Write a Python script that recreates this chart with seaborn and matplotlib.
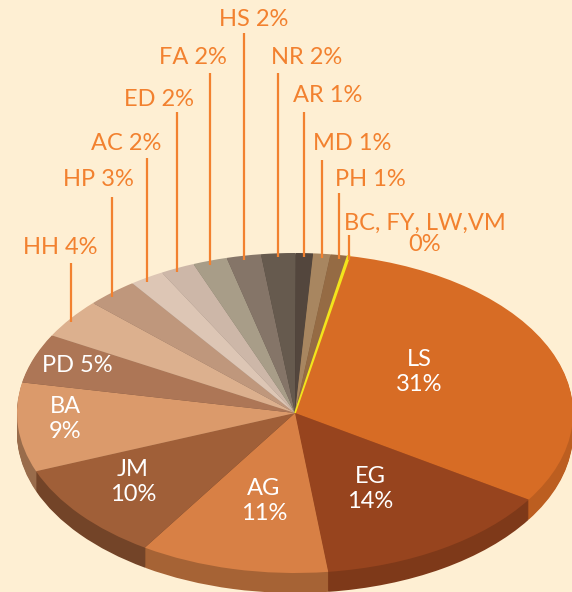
import numpy as np
import matplotlib
matplotlib.use("Agg")
import matplotlib.pyplot as plt
import seaborn as sns

# data (clockwise from the top)
cats = ["LS", "EG", "AG", "JM", "BA", "PD", "HH", "HP", "AC", "ED",
        "FA", "HS", "NR", "AR", "MD", "PH", "BC, FY, LW,VM"]
shares = [31, 14, 11, 10, 9, 5, 4, 3, 2, 2, 2, 2, 2, 1, 1, 1, 0.1]
pct_labels = ["31%", "14%", "11%", "10%", "9%", "5%", "4%", "3%", "2%", "2%",
              "2%", "2%", "2%", "1%", "1%", "1%", "0%"]
slice_colors = ["#D76C25", "#97441E", "#D88045", "#A05F38", "#DB9A6B", "#AD7656",
                "#DCB08E", "#BF977C", "#DDC6B5", "#CDB7A8", "#A89D88", "#857568",
                "#665A4E", "#53463D", "#A88660", "#956B44", "#F2E41C"]

BG = "#FEEFD3"
ORANGE = "#F2812F"

sns.set_style("white")
plt.rcParams["font.family"] = ["Lato", "DejaVu Sans"]

W, H = 572, 592
CX, CY, RX, RY, DEPTH = 295, 413, 278, 160, 20
START = 78.7

fig = plt.figure(figsize=(W / 100, H / 100), dpi=100, facecolor=BG)
ax = fig.add_axes([0, 0, 1, 1])
ax.set_facecolor(BG)

palette = sns.color_palette(slice_colors)

# wall shading: lit from the right, darker to the left
total = sum(shares)
wall = []
acc = 0
for v, col in zip(shares, palette):
    mid = np.deg2rad(START - (acc + v / 2) / total * 360)
    acc += v
    f = 0.79 + 0.09 * np.cos(mid)
    wall.append(tuple(c * f for c in col))

# side wall: stacked, shifted copies of the pie
for k in range(DEPTH, 0, -1):
    ax.pie(shares, colors=wall, startangle=START, counterclock=False,
           center=(0, -k / RY), radius=1,
           wedgeprops=dict(linewidth=0))
# top face
wedges, _ = ax.pie(shares, colors=palette, startangle=START, counterclock=False,
                   radius=1, wedgeprops=dict(linewidth=0))
wedges[-1].set_edgecolor(slice_colors[-1])
wedges[-1].set_linewidth(1.2)

ax.set_aspect("auto")
ax.set_xlim(-CX / RX, (W - CX) / RX)
ax.set_ylim((CY - H) / RY, CY / RY)
ax.axis("off")

# text layer in pixel coordinates
tx = fig.add_axes([0, 0, 1, 1])
tx.set_xlim(0, W)
tx.set_ylim(H, 0)
tx.axis("off")
tx.patch.set_alpha(0)

# inside labels (LS .. PD)
inside_pos = [(419, 372), (370, 489), (264, 501), (133, 482), (65, 419), (77, 365)]
for i, (x, y) in enumerate(inside_pos):
    txt = f"{cats[i]} {pct_labels[i]}" if cats[i] == "PD" else f"{cats[i]}\n{pct_labels[i]}"
    tx.text(x, y, txt, color="white", fontsize=17, ha="center", va="center",
            linespacing=1.25)

# outside labels with vertical leader lines
line_tops = {"HH": 263, "HP": 197, "AC": 158, "ED": 112, "FA": 73, "HS": 33,
             "NR": 73, "AR": 112, "MD": 160, "PH": 193, "BC, FY, LW,VM": 235}
label_pos = {"HH": (60, 247), "HP": (98, 180), "AC": (126, 143), "ED": (159, 100),
             "FA": (193, 58), "HS": (254, 20), "NR": (307, 58), "AR": (328, 95),
             "MD": (352, 143), "PH": (370, 180), "BC, FY, LW,VM": (425, 234)}
for i, w in enumerate(wedges):
    name = cats[i]
    if name not in line_tops:
        continue
    mid = np.deg2rad((w.theta1 + w.theta2) / 2)
    x = CX + RX * np.cos(mid)
    y = CY - RY * np.sin(mid) + 4
    tx.plot([x, x], [line_tops[name], y], color=ORANGE, lw=1.6,
            solid_capstyle="butt")
    lx, ly = label_pos[name]
    if name == "BC, FY, LW,VM":
        txt = f"{name}\n{pct_labels[i]}"
    else:
        txt = f"{name} {pct_labels[i]}"
    tx.text(lx, ly, txt, color=ORANGE, fontsize=17, ha="center", va="center",
            linespacing=1.05)

fig.savefig("out.png", dpi=100, facecolor=BG)
